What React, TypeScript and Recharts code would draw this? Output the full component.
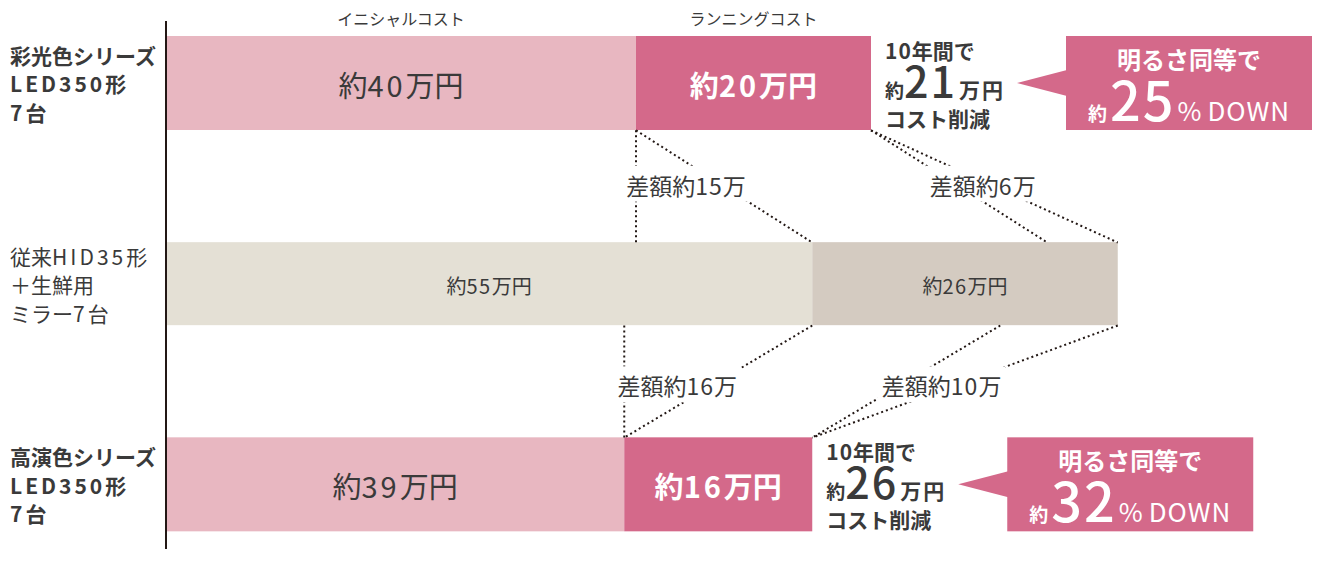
import React from 'react'
import { BarChart, Bar, XAxis, YAxis, LabelList, ReferenceLine } from 'recharts'

// rows: two LED series compared against the conventional HID row in the middle
const categories = ['彩光色シリーズLED350形7台', '従来HID35形＋生鮮用ミラー7台', '高演色シリーズLED350形7台']
const categoryLines = [
  ['彩光色シリーズ', 'LED350形', '7台'],
  ['従来HID35形', '＋生鮮用', 'ミラー7台'],
  ['高演色シリーズ', 'LED350形', '7台'],
]
const initialCost = [40, 55, 39] // 万円
const runningCost = [20, 26, 16] // 万円
const seriesNames = ['イニシャルコスト', 'ランニングコスト']
const tenYearSavings = [21, 0, 26] // 万円
const brightnessCut = [25, 0, 32] // %
const BASE_ROW = 1
const LED_ROWS = [0, 2]

const initialColors = ['#e8b7c1', '#e4e0d5', '#e8b7c1']
const runningColors = ['#d4698a', '#d4cbc1', '#d4698a']
const PINK = '#d4698a'
const TEXT = '#3a3a3a'
const LINE = '#231815'
const FONT = "'Noto Sans CJK JP', 'Noto Sans', sans-serif"
const BAR_SIZE = 94
const THIN_INSET = 5.5

const data = categories.map((name, i) => ({
  name,
  initial: initialCost[i],
  running: runningCost[i],
}))

const total = (i: number) => initialCost[i] + runningCost[i]
const halfHeight = (row: number) => BAR_SIZE / 2 - (row === BASE_ROW ? THIN_INSET : 0)

// latin runs get extra tracking, like the original typeface
function mixed(text: string, spacing: number) {
  const runs = text.match(/[\x20-\x7e]+|[^\x20-\x7e]+/g) || []
  return runs.map((r, i) =>
    /[\x20-\x7e]/.test(r[0]) ? (
      <tspan key={i} style={{ letterSpacing: spacing }}>{r}</tspan>
    ) : (
      <tspan key={i}>{r}</tspan>
    )
  )
}

const box = (p: any) => (p.viewBox && p.viewBox.width != null ? p.viewBox : p)

function CategoryTick(props: any) {
  const row = categories.indexOf(props.payload.value)
  const lines = categoryLines[row] || []
  const bold = row !== BASE_ROW
  return (
    <g>
      {lines.map((t, k) => (
        <text
          key={k}
          x={10}
          y={props.y + (k - 1) * 28.5}
          dominantBaseline="central"
          fontFamily={FONT}
          fontSize={21}
          fontWeight={bold ? 700 : 400}
          fill={TEXT}
        >
          {mixed(t, 3)}
        </text>
      ))}
    </g>
  )
}

function segmentShape(colors: string[]) {
  return (p: any) => {
    const inset = p.index === BASE_ROW ? THIN_INSET : 0
    return (
      <rect
        x={p.x}
        y={p.y + inset}
        width={p.width}
        height={p.height - inset * 2}
        fill={colors[p.index]}
      />
    )
  }
}

function insideLabel(running: boolean) {
  return (p: any) => {
    const b = box(p)
    const big = p.index !== BASE_ROW
    const white = running && big
    return (
      <text
        x={b.x + b.width / 2}
        y={b.y + b.height / 2 + 1}
        textAnchor="middle"
        dominantBaseline="central"
        fontFamily={FONT}
        fontSize={big ? 29 : 20}
        fontWeight={white ? 700 : 400}
        fill={white ? '#fff' : TEXT}
      >
        {mixed(`約${p.value}万円`, big ? 3 : 1.5)}
      </text>
    )
  }
}

function headerLabel(name: string) {
  return (p: any) => {
    if (p.index !== 0) return null
    const b = box(p)
    return (
      <text
        x={b.x + b.width / 2}
        y={b.y - 18}
        textAnchor="middle"
        dominantBaseline="central"
        fontFamily={FONT}
        fontSize={16}
        fill={TEXT}
      >
        {name}
      </text>
    )
  }
}

function calloutLabel(p: any) {
  const row = p.index
  if (!LED_ROWS.includes(row)) return null
  const b = box(p)
  const end = b.x + b.width
  const cy = b.y + b.height / 2
  const tx = end + 14
  const bx = end + 195
  const bw = 246
  return (
    <g fontFamily={FONT}>
      <text x={tx} y={cy - 33} dominantBaseline="central" fontSize={21} fontWeight={700} fill={TEXT}>
        {mixed('10年間で', 1)}
      </text>
      <text x={tx} y={cy + 15} fontWeight={700} fill={TEXT}>
        <tspan fontSize={19}>約</tspan>
        <tspan fontSize={43} fontWeight={500} style={{ letterSpacing: 2 }}>{tenYearSavings[row]}</tspan>
        <tspan fontSize={21} dx={2} style={{ letterSpacing: 2 }}>万円</tspan>
      </text>
      <text x={tx} y={cy + 35} dominantBaseline="central" fontSize={21} fontWeight={700} fill={TEXT}>
        コスト削減
      </text>
      <polygon
        points={`${end + 146},${cy} ${bx + 1},${cy - 13} ${bx + 1},${cy + 13}`}
        fill={PINK}
      />
      <rect x={bx} y={b.y} width={bw} height={b.height} fill={PINK} />
      <text
        x={bx + bw / 2}
        y={cy - 25}
        textAnchor="middle"
        dominantBaseline="central"
        fontSize={24}
        fontWeight={700}
        fill="#fff"
      >
        明るさ同等で
      </text>
      <text x={bx + bw / 2} y={cy + 38} textAnchor="middle" fill="#fff">
        <tspan fontSize={19} fontWeight={700}>約</tspan>
        <tspan fontSize={54} fontWeight={500} dx={3} style={{ letterSpacing: 2 }}>{brightnessCut[row]}</tspan>
        <tspan fontSize={26} dx={2}>%</tspan>
        <tspan fontSize={26} dx={6} style={{ letterSpacing: 1 }}>DOWN</tspan>
      </text>
    </g>
  )
}

// dotted guides: each links a value on an LED row with a value on the HID row
function connectorsFor(led: number) {
  const base = BASE_ROW
  const pairs = [
    [initialCost[led], initialCost[led]],
    [initialCost[led], initialCost[base]],
    [total(led), initialCost[base] + runningCost[led]],
    [total(led), total(base)],
  ]
  const ledUpper = led < base
  const upper = ledUpper ? led : base
  const lower = ledUpper ? base : led
  const lines = pairs.map(([lv, bv]) => ({
    from: ledUpper ? lv : bv,
    to: ledUpper ? bv : lv,
    upper,
    lower,
  }))
  const mean = (a: number[]) => a.reduce((s, v) => s + v, 0) / a.length
  const labels = [
    {
      text: `差額約${initialCost[base] - initialCost[led]}万`,
      x: mean(pairs.slice(0, 2).flat()),
      upper,
      lower,
    },
    {
      text: `差額約${runningCost[base] - runningCost[led]}万`,
      x: mean(pairs.slice(2, 4).flat()),
      upper,
      lower,
    },
  ]
  return { lines, labels }
}

const guides = LED_ROWS.map(connectorsFor)
const guideLines = guides.flatMap((g) => g.lines)
const guideLabels = guides.flatMap((g) => g.labels)

function dottedShape(upper: number, lower: number) {
  return (p: any) => (
    <line
      x1={p.x1}
      y1={p.y1 + halfHeight(upper)}
      x2={p.x2}
      y2={p.y2 - halfHeight(lower)}
      stroke={LINE}
      strokeWidth={2}
      strokeDasharray="2 3"
    />
  )
}

function diffLabelShape(text: string) {
  return (p: any) => {
    const fs = 23
    const w = [...text].reduce((s, c) => s + (c.charCodeAt(0) > 255 ? fs : fs * 0.55), 0) + 10
    const cx = (p.x1 + p.x2) / 2 + 6
    const cy = (p.y1 + p.y2) / 2
    return (
      <g>
        <rect x={cx - w / 2} y={cy - 18} width={w} height={36} fill="#fff" />
        <text
          x={cx}
          y={cy + 1}
          textAnchor="middle"
          dominantBaseline="central"
          fontFamily={FONT}
          fontSize={fs}
          fill={TEXT}
        >
          {mixed(text, 1)}
        </text>
      </g>
    )
  }
}

function axisShape(p: any) {
  const top = Math.min(p.y1, p.y2)
  const bottom = Math.max(p.y1, p.y2)
  return <line x1={p.x1} y1={top + 38} x2={p.x2} y2={bottom - 36} stroke={LINE} strokeWidth={2} />
}

export default function App() {
  return (
    <>
      <style>{'html,body{margin:0;overflow:hidden;background:#fff}'}</style>
      <div style={{ position: 'absolute', left: 0, top: -17, width: 1321, height: 602, fontFamily: FONT }}>
        <BarChart
          width={1321}
          height={602}
          data={data}
          layout="vertical"
          margin={{ top: 0, right: 27, bottom: 0, left: 0 }}
        >
          <XAxis type="number" domain={[0, 96]} hide />
          <YAxis
            type="category"
            dataKey="name"
            width={166}
            axisLine={false}
            tickLine={false}
            tick={(props: any) => <CategoryTick {...props} />}
          />
          <Bar
            dataKey="initial"
            stackId="cost"
            barSize={BAR_SIZE}
            isAnimationActive={false}
            shape={segmentShape(initialColors)}
          >
            <LabelList dataKey="initial" content={insideLabel(false)} />
            <LabelList dataKey="initial" content={headerLabel(seriesNames[0])} />
          </Bar>
          <Bar
            dataKey="running"
            stackId="cost"
            barSize={BAR_SIZE}
            isAnimationActive={false}
            shape={segmentShape(runningColors)}
          >
            <LabelList dataKey="running" content={insideLabel(true)} />
            <LabelList dataKey="running" content={headerLabel(seriesNames[1])} />
            <LabelList dataKey="running" content={calloutLabel} />
          </Bar>
          <ReferenceLine x={0} shape={axisShape} />
          {guideLines.map((l, i) => (
            <ReferenceLine
              key={`g${i}`}
              segment={[
                { x: l.from, y: categories[l.upper] },
                { x: l.to, y: categories[l.lower] },
              ]}
              shape={dottedShape(l.upper, l.lower)}
            />
          ))}
          {guideLabels.map((l, i) => (
            <ReferenceLine
              key={`t${i}`}
              segment={[
                { x: l.x, y: categories[l.upper] },
                { x: l.x, y: categories[l.lower] },
              ]}
              shape={diffLabelShape(l.text)}
            />
          ))}
        </BarChart>
      </div>
    </>
  )
}
